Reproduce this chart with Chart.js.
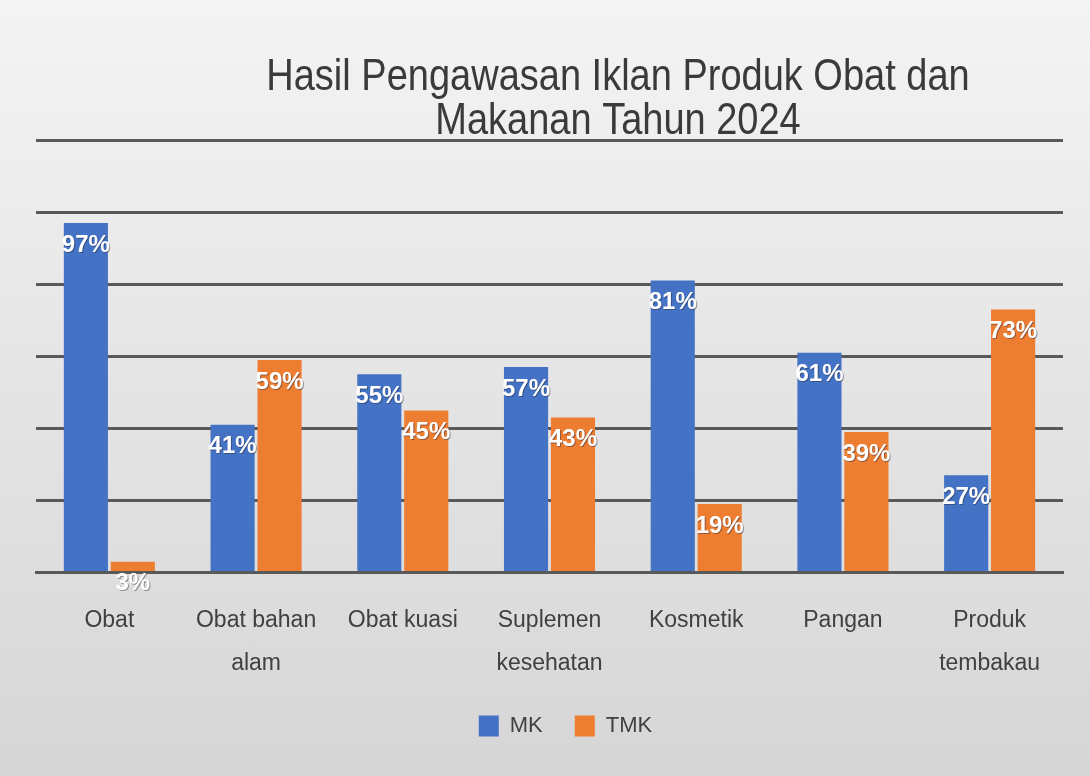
<!DOCTYPE html>
<html>
<head>
<meta charset="utf-8">
<script src="https://cdn.jsdelivr.net/npm/chart.js@4"></script>
<style>
  html, body { margin: 0; padding: 0; }
  body {
    width: 1090px; height: 776px; overflow: hidden;
    background: linear-gradient(to bottom, #f4f4f4 0%, #e6e6e6 45%, #d6d6d6 100%);
  }
  #wrap { position: relative; width: 1090px; height: 776px; }
</style>
</head>
<body>
<div id="wrap"><canvas id="myChart"></canvas></div>
<script>
// Data
var titleLines = ['Hasil Pengawasan Iklan Produk Obat dan', 'Makanan Tahun 2024'];
var categories = [
    'Obat',
    ['Obat bahan', 'alam'],
    'Obat kuasi',
    ['Suplemen', 'kesehatan'],
    'Kosmetik',
    'Pangan',
    ['Produk', 'tembakau']
];
var mkValues = [97, 41, 55, 57, 81, 61, 27];
var tmkValues = [3, 59, 45, 43, 19, 39, 73];

var ctx = document.getElementById('myChart').getContext('2d');

// Title drawn a bit right of centre, like the original
var titlePlugin = {
    id: 'offsetTitle',
    afterDraw: function (chart) {
        var c = chart.ctx;
        c.save();
        c.fillStyle = '#3a3a3a';
        c.textAlign = 'center';
        c.textBaseline = 'alphabetic';
        c.font = '38px "Liberation Sans", Arial, sans-serif';
        c.scale(1, 1.18);
        c.fillText(titleLines[0], 618, 90 / 1.18);
        c.fillText(titleLines[1], 618, 134 / 1.18);
        c.restore();
    }
};

// Legend sits a little right of centre in the original
var legendShift = {
    id: 'legendShift',
    afterLayout: function (chart) {
        if (chart.legend) {
            chart.legend.left += 16;
            chart.legend.right += 16;
        }
    }
};

// Percentage labels inside the top of each bar
var valueLabels = {
    id: 'valueLabels',
    afterDatasetsDraw: function (chart) {
        var c = chart.ctx;
        c.save();
        c.font = 'bold 24px "Liberation Sans", Arial, sans-serif';
        c.textAlign = 'center';
        c.textBaseline = 'middle';
        chart.data.datasets.forEach(function (ds, i) {
            var meta = chart.getDatasetMeta(i);
            meta.data.forEach(function (bar, j) {
                var txt = ds.data[j] + '%';
                c.fillStyle = 'rgba(40,40,60,0.45)';
                c.fillText(txt, bar.x + 1, bar.y + 23);
                c.fillStyle = '#ffffff';
                c.fillText(txt, bar.x, bar.y + 22);
            });
        });
        c.restore();
    }
};

var chartConfig = {
    type: 'bar',
    data: {
        labels: categories,
        datasets: [{
            label: 'MK',
            data: mkValues,
            backgroundColor: '#4472C4',
            categoryPercentage: 0.64,
            barPercentage: 0.94
        }, {
            label: 'TMK',
            data: tmkValues,
            backgroundColor: '#ED7D31',
            categoryPercentage: 0.64,
            barPercentage: 0.94
        }]
    },
    options: {
        responsive: true,
        maintainAspectRatio: false,
        animation: false,
        layout: {
            padding: { top: 140, left: 36, right: 27, bottom: 29 }
        },
        plugins: {
            title: { display: false },
            tooltip: { enabled: false },
            legend: {
                position: 'bottom',
                labels: {
                    color: '#404040',
                    font: { family: '"Liberation Sans", Arial, sans-serif', size: 22 },
                    boxWidth: 20,
                    boxHeight: 21,
                    padding: 32
                }
            }
        },
        scales: {
            x: {
                grid: { display: false },
                border: { color: '#595959', width: 3 },
                ticks: {
                    color: '#404040',
                    font: { family: '"Liberation Sans", Arial, sans-serif', size: 23, lineHeight: 1.9 },
                    padding: 18,
                    maxRotation: 0,
                    autoSkip: false
                },
                afterFit: function (scale) { scale.height -= 21; }
            },
            y: {
                min: 0,
                max: 120,
                ticks: { display: false, stepSize: 20 },
                border: { display: false },
                grid: { color: '#595959', lineWidth: 3, drawTicks: false }
            }
        }
    },
    plugins: [titlePlugin, valueLabels, legendShift]
};

var chart = new Chart(ctx, chartConfig);
</script>
</body>
</html>
